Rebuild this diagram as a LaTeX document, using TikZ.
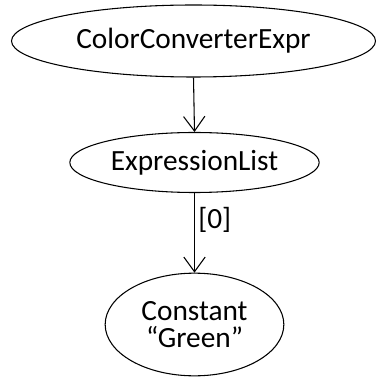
\documentclass[tikz,border=0pt]{standalone}
\usepackage{fontspec}
\setmainfont{Carlito}
\usetikzlibrary{shapes.geometric,arrows.meta}

\begin{document}
\begin{tikzpicture}[x=0.75pt, y=-0.75pt, >={Straight Barb[length=11pt,width=16pt]},
  treenode/.style={ellipse, draw, line width=0.8pt, inner sep=0pt,
    font=\fontsize{22}{20}\selectfont, align=center},
  edgelabel/.style={font=\fontsize{22}{20}\selectfont, inner sep=2.5pt}]

  % --- 1. 描画範囲 ---
  \useasboundingbox (0,0) rectangle (375,377);

  % --- 2. ノード ---
  \node[treenode, minimum width=273pt, minimum height=54pt] (conv) at (193.5,41) {ColorConverterExpr};
  \node[treenode, minimum width=187pt, minimum height=45pt] (list) at (194.5,162.5) {ExpressionList};
  \node[treenode, minimum width=134pt, minimum height=77pt] (const) at (194.5,324.5) {Constant\\“Green”};

  % --- 3. 矢印 ---
  \draw[->, line width=0.8pt] (conv.south) -- (list.north);
  \draw[->, line width=0.8pt] (list.south) -- node[edgelabel, right, pos=0.34] {[0]} (const.north);

\end{tikzpicture}
\end{document}
